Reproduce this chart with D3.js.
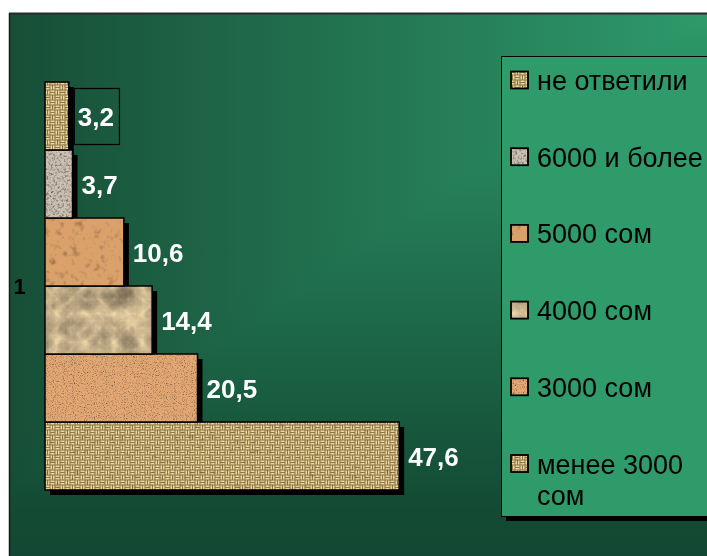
<!DOCTYPE html>
<html>
<head>
<meta charset="utf-8">
<script src="https://cdn.jsdelivr.net/npm/d3@7"></script>
<style>
  html, body { margin: 0; padding: 0; background: #ffffff; }
  svg { display: block; }
</style>
</head>
<body>
<script>
// ---- data ----
const categories = ["1"];
const seriesNames = ["менее 3000 сом", "3000 сом", "4000 сом", "5000 сом", "6000 и более", "не ответили"];
const seriesValues = [47.6, 20.5, 14.4, 10.6, 3.7, 3.2];
const boxedLabelSeries = ["не ответили"];

// ---- setup ----
const W = 707, H = 556;
const font = "'Liberation Sans', Arial, Helvetica, sans-serif";
const svg = d3.select("body").append("svg").attr("width", W).attr("height", H);
const defs = svg.append("defs");

// background gradients (rectangular "from corner" effect via darken blend)
const hg = defs.append("linearGradient").attr("id", "hgrad")
  .attr("gradientUnits", "userSpaceOnUse").attr("x1", 9).attr("y1", 0).attr("x2", 707).attr("y2", 0);
hg.append("stop").attr("offset", 0).attr("stop-color", "#174e37");
hg.append("stop").attr("offset", 1).attr("stop-color", "#2e9a6a");
const vg = defs.append("linearGradient").attr("id", "vgrad")
  .attr("gradientUnits", "userSpaceOnUse").attr("x1", 0).attr("y1", 13).attr("x2", 0).attr("y2", 556);
vg.append("stop").attr("offset", 0).attr("stop-color", "#2e9a6a");
vg.append("stop").attr("offset", 0.92).attr("stop-color", "#134a34");
vg.append("stop").attr("offset", 1).attr("stop-color", "#124833");

// weave pattern (burlap)
function weave(id, size, dark, light) {
  const p = defs.append("pattern").attr("id", id).attr("patternUnits", "userSpaceOnUse")
    .attr("width", size).attr("height", size);
  const q = size / 2, s = q / 2;
  p.append("rect").attr("width", size).attr("height", size).attr("fill", dark);
  [[0, 0, "h"], [q, 0, "v"], [0, q, "v"], [q, q, "h"]].forEach(([ox, oy, dir]) => {
    for (let k = 0; k < 2; k++) {
      if (dir === "h") p.append("rect").attr("x", ox + 0.5).attr("y", oy + k * s + 0.5)
        .attr("width", q - 1).attr("height", s - 1).attr("fill", light);
      else p.append("rect").attr("x", ox + k * s + 0.5).attr("y", oy + 0.5)
        .attr("width", s - 1).attr("height", q - 1).attr("fill", light);
    }
  });
}
weave("weave", 10, "#8f7747", "#ead79f");

// noise texture filters
function texFilter(id, freq, oct, seed, slope, intercept, type) {
  const f = defs.append("filter").attr("id", id).attr("x", 0).attr("y", 0)
    .attr("width", 1).attr("height", 1).attr("color-interpolation-filters", "sRGB");
  f.append("feTurbulence").attr("type", type || "fractalNoise").attr("baseFrequency", freq)
    .attr("numOctaves", oct).attr("seed", seed).attr("result", "noise");
  f.append("feColorMatrix").attr("in", "noise").attr("type", "matrix")
    .attr("values", "0.33 0.33 0.33 0 0  0.33 0.33 0.33 0 0  0.33 0.33 0.33 0 0  0 0 0 0 1")
    .attr("result", "grey");
  const ct = f.append("feComponentTransfer").attr("in", "grey").attr("result", "c");
  ["feFuncR", "feFuncG", "feFuncB"].forEach(n =>
    ct.append(n).attr("type", "linear").attr("slope", slope).attr("intercept", intercept));
  f.append("feBlend").attr("in", "SourceGraphic").attr("in2", "c").attr("mode", "multiply").attr("result", "b");
  f.append("feComposite").attr("in", "b").attr("in2", "SourceGraphic").attr("operator", "in");
}
texFilter("tex-weave", 0.2, 2, 4, 0.8, 0.62);
texFilter("tex-sand", 0.9, 2, 7, 1.9, 0.05);
texFilter("tex-paper", 0.035, 4, 11, -0.9, 1.1, "turbulence");
texFilter("tex-cork", 0.14, 3, 5, 1.3, 0.38);
texFilter("tex-granite", 0.45, 3, 9, 1.8, 0.05);

const styleBySeries = {
  "менее 3000 сом": { fill: "url(#weave)", filter: "url(#tex-weave)" },
  "3000 сом": { fill: "#e3a874", filter: "url(#tex-sand)" },
  "4000 сом": { fill: "#ecd3a6", filter: "url(#tex-paper)" },
  "5000 сом": { fill: "#dba16b", filter: "url(#tex-cork)" },
  "6000 и более": { fill: "#cdc1b4", filter: "url(#tex-granite)" },
  "не ответили": { fill: "url(#weave)", filter: "url(#tex-weave)" }
};

// ---- panel background ----
svg.append("rect").attr("x", 9).attr("y", 13).attr("width", W).attr("height", H).attr("fill", "url(#hgrad)");
svg.append("rect").attr("x", 9).attr("y", 13).attr("width", W).attr("height", H).attr("fill", "url(#vgrad)")
  .style("mix-blend-mode", "darken");
svg.append("line").attr("x1", 9).attr("x2", W).attr("y1", 13.5).attr("y2", 13.5).attr("stroke", "#2a2a2a").attr("stroke-width", 2);
svg.append("line").attr("x1", 9.5).attr("x2", 9.5).attr("y1", 13).attr("y2", H).attr("stroke", "#1a1a1a").attr("stroke-width", 1.5);

// ---- scales ----
const data = seriesNames.map((n, i) => ({ name: n, value: seriesValues[i] }));
const x = d3.scaleLinear().domain([0, 50]).range([45, 417]);
const y = d3.scaleBand().domain(seriesNames).range([490, 82]).padding(0);
const cat = d3.scaleBand().domain(categories).range([82, 490]);
const shadowOff = 5;

// shadows
svg.append("g").selectAll("rect").data(data).join("rect")
  .attr("x", d => x(0) + shadowOff).attr("y", d => y(d.name) + shadowOff)
  .attr("width", d => x(d.value) - x(0)).attr("height", y.bandwidth())
  .attr("fill", "#000");

// bars
const bars = svg.append("g").selectAll("g").data(data).join("g");
bars.append("rect")
  .attr("x", x(0)).attr("y", d => y(d.name))
  .attr("width", d => x(d.value) - x(0)).attr("height", y.bandwidth())
  .attr("fill", d => styleBySeries[d.name].fill)
  .attr("filter", d => styleBySeries[d.name].filter);
bars.append("rect")
  .attr("x", x(0)).attr("y", d => y(d.name))
  .attr("width", d => x(d.value) - x(0)).attr("height", y.bandwidth())
  .attr("fill", "none").attr("stroke", "#000").attr("stroke-width", 1.5);

// data labels
const fmt = v => d3.format(".1f")(v).replace(".", ",");
const boxLayer = svg.append("g");
const labels = svg.append("g").selectAll("text").data(data).join("text")
  .attr("x", d => x(d.value) + 9)
  .attr("y", d => y(d.name) + y.bandwidth() / 2 + 9.5)
  .attr("font-family", font).attr("font-weight", "bold").attr("font-size", 26)
  .attr("fill", "#ffffff")
  .text(d => fmt(d.value));
labels.each(function (d) {
  if (!boxedLabelSeries.includes(d.name)) return;
  const bb = this.getBBox();
  boxLayer.append("rect")
    .attr("x", x(d.value) + shadowOff + 0.5).attr("y", y(d.name) + 6.5)
    .attr("width", bb.width + 9).attr("height", y.bandwidth() - 12)
    .attr("fill", "none").attr("stroke", "#000").attr("stroke-width", 1.2);
});

// category axis label
svg.append("g").selectAll("text").data(categories).join("text")
  .attr("x", 19.5).attr("y", d => cat(d) + cat.bandwidth() / 2 + 8)
  .attr("text-anchor", "middle")
  .attr("font-family", font).attr("font-weight", "bold").attr("font-size", 22)
  .attr("fill", "#000").text(d => d);

// ---- legend ----
const lg = svg.append("g");
lg.append("rect").attr("x", 501 + 5).attr("y", 56 + 5).attr("width", 230).attr("height", 460).attr("fill", "#000");
lg.append("rect").attr("x", 501.5).attr("y", 56.5).attr("width", 230).attr("height", 460)
  .attr("fill", "#2f9a6a").attr("stroke", "#000").attr("stroke-width", 1);

const legendOrder = seriesNames.slice().reverse();
const ly = d3.scalePoint().domain(legendOrder).range([80, 463.5]);
legendOrder.forEach(name => {
  const cy = ly(name);
  const st = styleBySeries[name];
  lg.append("rect").attr("x", 511).attr("y", cy - 8.5).attr("width", 17).attr("height", 17)
    .attr("fill", st.fill).attr("filter", st.filter);
  lg.append("rect").attr("x", 511).attr("y", cy - 8.5).attr("width", 17).attr("height", 17)
    .attr("fill", "none").attr("stroke", "#000").attr("stroke-width", 1.8);
  const t = lg.append("text").attr("x", 537).attr("y", cy + 10)
    .attr("font-family", font).attr("font-size", 27).attr("fill", "#000");
  const words = name.split(" ");
  let line = [], tspan = t.append("tspan").attr("x", 537).attr("dy", 0);
  words.forEach(w => {
    line.push(w);
    tspan.text(line.join(" "));
    if (tspan.node().getComputedTextLength() > 168 && line.length > 1) {
      line.pop();
      tspan.text(line.join(" "));
      line = [w];
      tspan = t.append("tspan").attr("x", 537).attr("dy", 31.5).text(w);
    }
  });
});
</script>
</body>
</html>
